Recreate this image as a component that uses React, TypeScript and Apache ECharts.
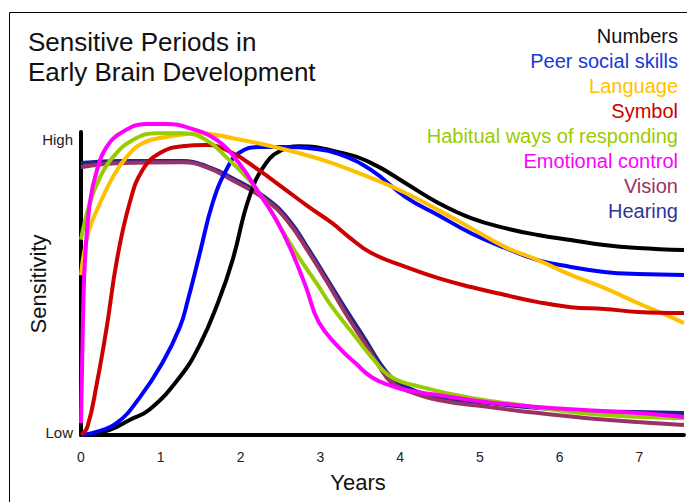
import React, { useEffect, useRef } from "react";
import * as echarts from "echarts";

// x in years, y in relative sensitivity (0 = Low, 100 = High)
const xTicks = [0, 1, 2, 3, 4, 5, 6, 7];
const yLabelLow = "Low";
const yLabelHigh = "High";

const numbers = [[0,0],[0.11,0.2],[0.36,1.7],[0.61,5.1],[0.86,8.6],[1.24,19.6],[1.49,30.5],[1.73,45.6],[1.9,59.1],[2.11,80.4],[2.32,91.9],[2.52,96.3],[2.73,97.6],[3.23,95.6],[3.64,91.9],[4.07,85.1],[4.48,78.4],[4.89,73.3],[5.32,69.9],[5.73,67.6],[6.14,65.9],[6.56,64.2],[6.98,63.2],[7.56,62.5]];
const peerSocial = [[0,0],[0.15,0.7],[0.45,4.1],[0.74,12.8],[1.02,24.3],[1.24,36.5],[1.34,45.6],[1.49,61.5],[1.65,78.4],[1.82,89.5],[1.98,95.3],[2.23,97.3],[2.52,97.3],[2.9,96.8],[3.23,95],[3.64,89.5],[4.07,80.4],[4.48,74.3],[4.89,68.2],[5.32,63.2],[5.73,59.1],[6.14,56.8],[6.56,55.1],[6.98,54.4],[7.56,54.1]];
const language = [[0,54],[0.09,68.2],[0.24,78.4],[0.4,87.2],[0.57,93.9],[0.77,98.6],[1.07,100.7],[1.49,102],[1.9,100.3],[2.32,98],[2.73,95.3],[3.15,91.9],[3.64,86.8],[4.07,81.8],[4.48,76],[4.89,69.9],[5.32,63.5],[5.73,59.1],[6.14,54.1],[6.56,49.7],[6.98,44.6],[7.39,39.9],[7.56,37.8]];
const symbol = [[0,0],[0.08,2.7],[0.2,17.6],[0.32,36],[0.45,59.1],[0.61,78.4],[0.77,89.5],[0.99,95.3],[1.27,97.6],[1.57,98],[1.9,95.3],[2.23,89.5],[2.52,83.8],[2.86,77],[3.15,71.6],[3.36,66.9],[3.64,61.5],[4.07,56.8],[4.48,53],[4.89,50],[5.32,47.3],[5.73,44.9],[6.14,43.2],[6.56,42.6],[6.98,41.6],[7.56,41.2]];
const habitual = [[0,66],[0.11,78.4],[0.24,87.2],[0.4,93.9],[0.65,99.7],[0.95,102],[1.27,102],[1.57,99.7],[1.82,93.9],[2.11,86.1],[2.32,78.4],[2.52,69.3],[2.73,60.1],[2.95,51.4],[3.15,43.2],[3.44,33.2],[3.64,26.4],[3.89,19.6],[4.27,16.2],[4.89,12.5],[5.52,10.1],[6.14,7.8],[6.76,6.4],[7.56,5.7]];
const emotional = [[0,4],[0.03,45],[0.05,59.1],[0.11,78.4],[0.2,89.5],[0.32,97.3],[0.52,102.4],[0.82,105.1],[1.07,105.1],[1.36,103.7],[1.7,99.7],[1.98,91.9],[2.23,81.8],[2.45,72.6],[2.65,61.5],[2.82,50],[2.98,38.2],[3.23,29.7],[3.44,24.3],[3.64,19.6],[3.86,16.9],[4.07,15.2],[4.48,13.5],[5.1,11.1],[5.73,9.5],[6.35,8.4],[6.98,7.4],[7.56,6.1]];
const hearing = [[0,91.9],[0.5,92.6],[1.27,92.6],[1.57,90.9],[1.9,86.8],[2.32,80.1],[2.61,72.6],[2.86,62.5],[3.07,53.4],[3.32,42.5],[3.57,32],[3.73,25],[3.89,19.5],[4.07,16.3],[4.48,12.8],[5.1,10.8],[5.73,9.1],[6.35,8.1],[6.98,7.8],[7.56,7.4]];
const vision = [[0,90.5],[0.5,91.9],[1.27,92.2],[1.57,90.5],[1.9,86.1],[2.32,79.4],[2.61,71.6],[2.86,61.5],[3.07,52.4],[3.32,41],[3.57,30.5],[3.73,23.5],[3.89,17.8],[4.07,15.2],[4.48,11.8],[5.1,9.5],[5.73,7.4],[6.35,5.7],[6.98,4.4],[7.56,3.4]];

const legendNames = ["Numbers", "Peer social skills", "Language", "Symbol", "Habitual ways of responding", "Emotional control", "Vision", "Hearing"];
const lineColors = ["#000000", "#0000ff", "#ffc000", "#cc0000", "#99cc00", "#ff00ff", "#993366", "#23238c"];
const textColors = ["#111111", "#1538d8", "#ffc000", "#cc0000", "#99cc00", "#ff00ff", "#993366", "#333399"];
const seriesData = [numbers, peerSocial, language, symbol, habitual, emotional, vision, hearing];
const drawOrder = [7, 6, 0, 1, 2, 3, 4, 5];

const FONT = "'Liberation Sans', Arial, Helvetica, sans-serif";

export default function App() {
  const ref = useRef<HTMLDivElement>(null);
  useEffect(() => {
    if (!ref.current) return;
    const chart = echarts.init(ref.current, null, { renderer: "svg" });
    const series = drawOrder.map((i) => ({
      name: legendNames[i],
      type: "line",
      data: seriesData[i],
      smooth: 0.45,
      showSymbol: false,
      clip: false,
      lineStyle: { color: lineColors[i], width: 4 },
      itemStyle: { color: lineColors[i] },
    }));
    const legendTexts = legendNames.map((n, i) => ({
      type: "text",
      x: 678,
      y: 36 + i * 25,
      style: {
        text: n,
        fill: textColors[i],
        font: `20px ${FONT}`,
        align: "right",
        verticalAlign: "middle",
      },
    }));
    chart.setOption({
      animation: false,
      backgroundColor: "#ffffff",
      title: {
        text: "Sensitive Periods in\nEarly Brain Development",
        left: 23,
        top: 22,
        textStyle: { fontFamily: FONT, fontSize: 26, fontWeight: "normal", color: "#111", lineHeight: 30 },
      },
      grid: { left: 81, right: 0, top: 132, bottom: 67, containLabel: false },
      xAxis: {
        type: "value",
        min: 0,
        max: 7.56,
        interval: 1,
        axisLine: { show: true, lineStyle: { color: "#000", width: 4 } },
        axisTick: { show: false },
        splitLine: { show: false },
        axisLabel: {
          margin: 15,
          fontFamily: FONT,
          fontSize: 14,
          color: "#222",
          formatter: (v: number) => (xTicks.includes(v) ? String(v) : ""),
        },
      },
      yAxis: {
        type: "value",
        min: 0,
        max: 102.4,
        interval: 100,
        axisLine: { show: true, lineStyle: { color: "#000", width: 4 } },
        axisTick: { show: false },
        splitLine: { show: false },
        axisLabel: {
          margin: 8,
          fontFamily: FONT,
          fontSize: 15,
          color: "#222",
          formatter: (v: number) => (v === 0 ? `{low|${yLabelLow}}` : v === 100 ? yLabelHigh : ""),
          rich: { low: { fontFamily: FONT, fontSize: 15, color: "#222", padding: [0, 0, 6, 0] } },
        },
      },
      graphic: [
        {
          type: "rect",
          shape: { x: 9.5, y: 12.5, width: 720, height: 520 },
          style: { fill: "none", stroke: "#000", lineWidth: 1 },
          silent: true,
        },
        {
          type: "text",
          x: 358,
          y: 482,
          style: { text: "Years", fill: "#111", font: `22px ${FONT}`, align: "center", verticalAlign: "middle" },
        },
        {
          type: "text",
          x: 38,
          y: 284,
          rotation: Math.PI / 2,
          style: { text: "Sensitivity", fill: "#111", font: `22px ${FONT}`, align: "center", verticalAlign: "middle" },
        },
        ...legendTexts,
      ],
      series,
    });
    return () => chart.dispose();
  }, []);
  return (
    <div
      ref={ref}
      style={{ position: "fixed", left: 0, top: 0, width: 687, height: 502, background: "#fff" }}
    />
  );
}
